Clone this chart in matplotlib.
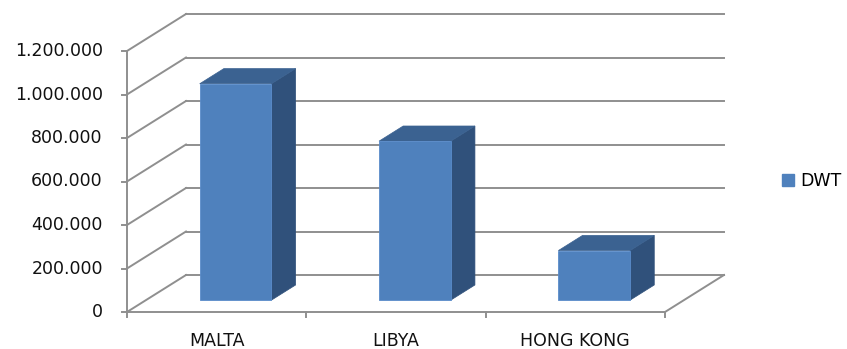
import matplotlib.pyplot as plt
from matplotlib.patches import Polygon, Patch

# data
countries = ["MALTA", "LIBYA", "HONG KONG"]
dwt = [995000, 731000, 228000]
yticks = [0, 200000, 400000, 600000, 800000, 1000000, 1200000]
series_name = "DWT"

# look of the fake 3D box
W, H = 847, 349
px_x = 179.33                 # pixels per category
px_y = 261 / 1200000          # pixels per value unit
x0_px, y0_px = 127, 37        # where (0, 0) of the front plane sits
depth_dx = 59 / px_x          # depth shift in category units
depth_dy = 37 / px_y          # depth shift in value units
bar_w = 0.4
d_front, d_back = 0.32, 0.73

grid_c = "#8f8f8f"
front_c, top_c, side_c = "#4f81bd", "#3b6291", "#30517b"

fig = plt.figure(figsize=(W / 100, H / 100), dpi=100)
ax = fig.add_axes([0, 0, 1, 1])
ax.set_xlim(-x0_px / px_x, (W - x0_px) / px_x)
ax.set_ylim(-y0_px / px_y, (H - y0_px) / px_y)
ax.axis("off")

n = len(countries)
lw = 1.4

# back wall gridlines and left wall diagonals
for v in yticks:
    ax.plot([depth_dx, n + depth_dx], [v + depth_dy, v + depth_dy], color=grid_c, lw=lw, zorder=1)
    ax.plot([0, depth_dx], [v, v + depth_dy], color=grid_c, lw=lw, zorder=1)
    ax.plot([-0.03, 0], [v, v], color=grid_c, lw=lw, zorder=1)
    lab = f"{v:,}".replace(",", ".")
    ax.text(-0.135, v, lab, ha="right", va="center", fontsize=12.5, color="#111111")

# floor
ax.plot([n, n + depth_dx], [0, depth_dy], color=grid_c, lw=lw, zorder=1)
ax.plot([0, n], [0, 0], color=grid_c, lw=lw, zorder=1)
ax.plot([0, 0], [0, yticks[-1]], color=grid_c, lw=lw, zorder=1)
for i in range(n + 1):
    ax.plot([i, i], [0, -5 / px_y], color=grid_c, lw=lw, zorder=1)

# bars
for i, v in enumerate(dwt):
    l = i + 0.5 - bar_w / 2
    r = i + 0.5 + bar_w / 2
    fx, fy = d_front * depth_dx, d_front * depth_dy
    bx, by = d_back * depth_dx, d_back * depth_dy
    front = [(l + fx, fy), (r + fx, fy), (r + fx, v + fy), (l + fx, v + fy)]
    top = [(l + fx, v + fy), (r + fx, v + fy), (r + bx, v + by), (l + bx, v + by)]
    side = [(r + fx, fy), (r + bx, by), (r + bx, v + by), (r + fx, v + fy)]
    ax.add_patch(Polygon(side, closed=True, fc=side_c, ec=side_c, lw=0.5, zorder=3))
    ax.add_patch(Polygon(top, closed=True, fc=top_c, ec=top_c, lw=0.5, zorder=3))
    ax.add_patch(Polygon(front, closed=True, fc=front_c, ec="#5a8ccb", lw=0.6, zorder=4))
    ax.text(i + 0.5, -29 / px_y, countries[i], ha="center", va="center", fontsize=12.5, color="#111111")

ax.legend(handles=[Patch(fc=front_c, ec=front_c, label=series_name)],
          loc="center left", bbox_to_anchor=(775 / W, 1 - 181 / H), frameon=False,
          fontsize=12.5, handlelength=0.7, handleheight=0.7, handletextpad=0.35,
          borderaxespad=0)

fig.savefig("out.png", dpi=100)
